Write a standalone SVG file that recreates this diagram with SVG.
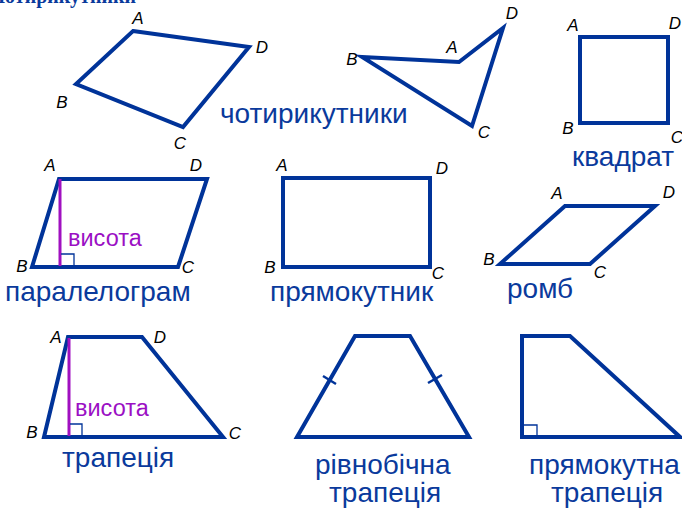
<svg xmlns="http://www.w3.org/2000/svg" width="682" height="511" viewBox="0 0 682 511">
<style>
.sh{fill:none;stroke:#003399;stroke-width:4;stroke-linejoin:miter}
.tick{fill:none;stroke:#003399;stroke-width:2.5}
.h{fill:none;stroke:#a010c0;stroke-width:3}
.hs{fill:none;stroke:#003399;stroke-width:1.3}
.v{font-family:"Liberation Sans",Arial,sans-serif;font-style:italic;font-size:17px;fill:#000;text-anchor:middle}
.t{font-family:"Liberation Sans",Arial,sans-serif;font-size:28px;fill:#0a3a9c}
.p{font-family:"Liberation Sans",Arial,sans-serif;font-size:23.5px;fill:#9b10c4}
.title{font-family:"Liberation Serif",serif;font-weight:bold;font-size:20px;fill:#0a3a9c;text-anchor:end}
</style>
<rect width="682" height="511" fill="#fff"/>
<text class="title" x="136" y="3">Чотирикутники</text>

<g id="quad1">
<polygon class="sh" points="133,31 249,47 183,127 76,84"/>
<text class="v" x="138" y="24">A</text>
<text class="v" x="62" y="108">B</text>
<text class="v" x="180" y="149">C</text>
<text class="v" x="262" y="53">D</text>
</g>

<g id="quad2">
<polygon class="sh" points="362,57 459,62 503,28 472,126"/>
<text class="v" x="352" y="65">B</text>
<text class="v" x="452" y="53">A</text>
<text class="v" x="512" y="19">D</text>
<text class="v" x="484" y="138">C</text>
</g>
<text class="t" x="220" y="123">чотирикутники</text>

<g id="square">
<rect class="sh" x="580" y="37" width="88" height="86"/>
<text class="v" x="573" y="31">A</text>
<text class="v" x="675" y="29">D</text>
<text class="v" x="568" y="134">B</text>
<text class="v" x="677" y="143">C</text>
<text class="t" x="572" y="166">квадрат</text>
</g>

<g id="parallelogram">
<polygon class="sh" points="59,179 207,179 178,267 32,267"/>
<line class="h" x1="60" y1="179" x2="60" y2="266"/>
<polyline class="hs" points="61,254 74,254 74,266"/>
<text class="p" x="68" y="246">висота</text>
<text class="v" x="50" y="171">A</text>
<text class="v" x="196" y="171">D</text>
<text class="v" x="22" y="272">B</text>
<text class="v" x="188" y="273">C</text>
<text class="t" x="5" y="301">паралелограм</text>
</g>

<g id="rectangle">
<rect class="sh" x="283" y="178" width="147" height="89"/>
<text class="v" x="282" y="171">A</text>
<text class="v" x="442" y="174">D</text>
<text class="v" x="270" y="273">B</text>
<text class="v" x="438" y="279">C</text>
<text class="t" x="270" y="301">прямокутник</text>
</g>

<g id="rhombus">
<polygon class="sh" points="565,206 655,206 590,264 500,264"/>
<text class="v" x="557" y="199">A</text>
<text class="v" x="669" y="198">D</text>
<text class="v" x="489" y="265">B</text>
<text class="v" x="600" y="278">C</text>
<text class="t" x="507" y="298">ромб</text>
</g>

<g id="trapezoid">
<polygon class="sh" points="68,337 142,337 223,437 44,437"/>
<line class="h" x1="69" y1="338" x2="69" y2="436"/>
<polyline class="hs" points="70,424 82,424 82,436"/>
<text class="p" x="75" y="416">висота</text>
<text class="v" x="56" y="343">A</text>
<text class="v" x="160" y="343">D</text>
<text class="v" x="32" y="438">B</text>
<text class="v" x="235" y="439">C</text>
<text class="t" x="62" y="467">трапеція</text>
</g>

<g id="isosceles-trapezoid">
<polygon class="sh" points="355,336 410,336 469,437 297,437"/>
<line class="tick" x1="323" y1="376" x2="336" y2="384"/>
<line class="tick" x1="428" y1="383" x2="442" y2="375"/>
<text class="t" x="315" y="474">рівнобічна</text>
<text class="t" x="329" y="502">трапеція</text>
</g>

<g id="right-trapezoid">
<polygon class="sh" points="522,336 570,336 680,437 522,437"/>
<polyline class="hs" points="523,425 537,425 537,436"/>
<text class="t" x="529" y="474">прямокутна</text>
<text class="t" x="551" y="502">трапеція</text>
</g>
</svg>
